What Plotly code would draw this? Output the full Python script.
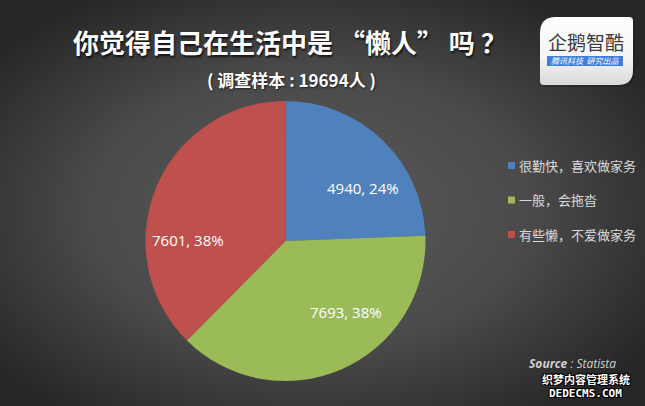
import base64
import plotly.graph_objects as go

# Survey data
categories = ["很勤快，喜欢做家务", "一般，会拖沓", "有些懒，不爱做家务"]
counts = [4940, 7693, 7601]
colors = ["#4f81bd", "#9bbb59", "#c0504d"]

title_text = "你觉得自己在生活中是 “懒人” 吗 ？"
subtitle_text = "( 调查样本 : 19694人 )"
source_text = "<i><b>Source</b> : Statista</i>"

W, H = 645, 406

# Background: dark radial gradient plus the brand badge panel
bg_svg = f"""<svg xmlns='http://www.w3.org/2000/svg' width='{W}' height='{H}' viewBox='0 0 {W} {H}' preserveAspectRatio='none'>
<defs>
<radialGradient id='g' cx='48%' cy='52%' r='62%'>
<stop offset='0' stop-color='#5b5b5b'/>
<stop offset='0.55' stop-color='#4a4a4a'/>
<stop offset='1' stop-color='#272727'/>
</radialGradient>
<linearGradient id='b' x1='0' y1='0' x2='0' y2='1'>
<stop offset='0' stop-color='#ffffff'/>
<stop offset='0.6' stop-color='#f4f4f4'/>
<stop offset='1' stop-color='#d9d9d9'/>
</linearGradient>
</defs>
<rect width='{W}' height='{H}' fill='url(#g)'/>
<path d='M 556 17 L 629 17 Q 633 17 633 21 L 633 70 Q 633 85 618 85 L 544 85 Q 540 85 540 81 L 540 33 Q 540 17 556 17 Z' fill='#1a1a1a' opacity='0.35' transform='translate(2,2)'/>
<path d='M 556 17 L 629 17 Q 633 17 633 21 L 633 70 Q 633 85 618 85 L 544 85 Q 540 85 540 81 L 540 33 Q 540 17 556 17 Z' fill='url(#b)'/>
<rect x='547' y='56' width='76' height='10' fill='#3f7fd9'/>
</svg>"""
bg_uri = "data:image/svg+xml;base64," + base64.b64encode(bg_svg.encode("utf-8")).decode("ascii")

# Pie geometry in pixels
cx, cy, r = 285.5, 241, 140

fig = go.Figure()
fig.add_trace(go.Pie(
    labels=categories,
    values=counts,
    marker=dict(colors=colors, line=dict(width=0)),
    sort=False,
    direction="clockwise",
    rotation=0,
    textinfo="none",
    hoverinfo="label+value+percent",
    showlegend=False,
    domain=dict(x=[(cx - r) / W, (cx + r) / W],
                y=[(H - cy - r) / H, (H - cy + r) / H]),
))

shapes = []
annotations = []

# Slice data labels: "count, share" derived from the counts
total = sum(counts)
label_pos = [(363, 188), (346, 312), (188, 240)]
for v, (lx, ly) in zip(counts, label_pos):
    annotations.append(dict(text=f"{v}, {round(100 * v / total)}%", x=lx / W, y=(H - ly) / H,
                            xref="paper", yref="paper", xanchor="center", yanchor="middle",
                            showarrow=False,
                            font=dict(family="Open Sans, Noto Sans, sans-serif", size=15,
                                      color="#ffffff")))

# Legend built from the category list
legend_y = [165.5, 200, 234.5]
for lab, col, ly in zip(categories, colors, legend_y):
    shapes.append(dict(type="rect", xref="paper", yref="paper",
                       x0=508 / W, x1=515 / W, y0=(H - ly - 3.5) / H, y1=(H - ly + 3.5) / H,
                       fillcolor=col, line=dict(width=0)))
    annotations.append(dict(text=lab, x=517 / W, y=(H - ly) / H, xref="paper", yref="paper",
                            xanchor="left", yanchor="middle", showarrow=False,
                            font=dict(family="Noto Sans CJK SC", size=13, color="#d9d9d9")))

# Titles
annotations.append(dict(text=f"<b>{title_text}</b>", x=290 / W, y=(H - 41) / H,
                        xref="paper", yref="paper", xanchor="center", yanchor="middle",
                        showarrow=False,
                        font=dict(family="Noto Sans CJK SC", size=26, color="#ffffff",
                                  shadow="1px 2px 2px rgba(0,0,0,0.7)")))
annotations.append(dict(text=f"<b>{subtitle_text}</b>", x=291 / W, y=(H - 79) / H,
                        xref="paper", yref="paper", xanchor="center", yanchor="middle",
                        showarrow=False,
                        font=dict(family="Noto Sans CJK SC", size=17, color="#ffffff",
                                  shadow="1px 1px 2px rgba(0,0,0,0.6)")))

# Brand badge texts
annotations.append(dict(text="企鹅智酷", x=586 / W, y=(H - 42) / H,
                        xref="paper", yref="paper", xanchor="center", yanchor="middle",
                        showarrow=False,
                        font=dict(family="Noto Sans CJK SC", size=19, color="#3a3a3a")))
annotations.append(dict(text="<i>腾讯科技  研究出品</i>", x=585 / W, y=(H - 61) / H,
                        xref="paper", yref="paper", xanchor="center", yanchor="middle",
                        showarrow=False,
                        font=dict(family="Noto Sans CJK SC", size=8, color="#ffffff")))

# Source note
annotations.append(dict(text=source_text, x=528 / W, y=(H - 363) / H,
                        xref="paper", yref="paper", xanchor="left", yanchor="middle",
                        showarrow=False, borderpad=0,
                        font=dict(family="Open Sans, sans-serif", size=12, color="#d0d0d0")))

# Site stamp in the bottom-right corner
outline = "-1px -1px 0 #000, 1px -1px 0 #000, -1px 1px 0 #000, 1px 1px 0 #000"
annotations.append(dict(text="<b>织梦内容管理系统</b>", x=586 / W, y=(H - 379) / H,
                        xref="paper", yref="paper", xanchor="center", yanchor="middle",
                        showarrow=False, borderpad=0,
                        font=dict(family="Noto Sans CJK SC", size=11, color="#ffffff", shadow=outline)))
annotations.append(dict(text="<b>DEDECMS.COM</b>", x=585 / W, y=(H - 393) / H,
                        xref="paper", yref="paper", xanchor="center", yanchor="middle",
                        showarrow=False, borderpad=0,
                        font=dict(family="DejaVu Sans Mono", size=11, color="#ffffff", shadow=outline)))

fig.update_layout(
    width=W, height=H,
    margin=dict(l=0, r=0, t=0, b=0),
    paper_bgcolor="#3f3f3f",
    plot_bgcolor="rgba(0,0,0,0)",
    images=[dict(source=bg_uri, xref="paper", yref="paper", x=0, y=1,
                 sizex=1, sizey=1, xanchor="left", yanchor="top",
                 sizing="stretch", layer="below")],
    shapes=shapes,
    annotations=annotations,
)

fig.write_html("out.html")
